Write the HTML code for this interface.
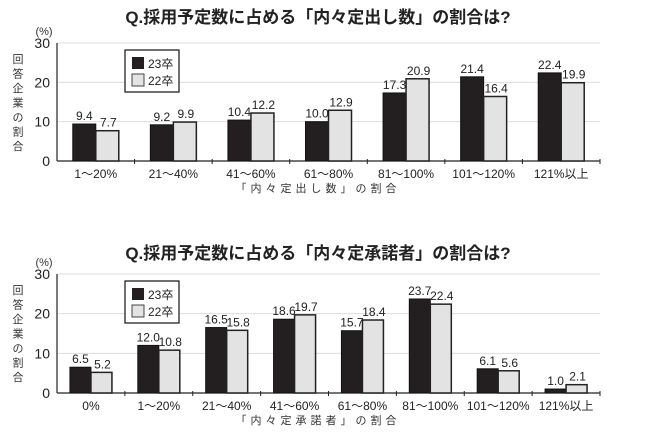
<!DOCTYPE html>
<html><head><meta charset="utf-8">
<style>
body{margin:0;background:#fff;}
svg{display:block;font-family:"Liberation Sans","Noto Sans CJK JP",sans-serif;}
</style></head>
<body>
<svg id="svg" width="650" height="434" viewBox="0 0 650 434"></svg>
<script>
const cats1 = ["1～20%","21～40%","41～60%","61～80%","81～100%","101～120%","121%以上"];
const s23_1 = [9.4,9.2,10.4,10.0,17.3,21.4,22.4];
const s22_1 = [7.7,9.9,12.2,12.9,20.9,16.4,19.9];
const cats2 = ["0%","1～20%","21～40%","41～60%","61～80%","81～100%","101～120%","121%以上"];
const s23_2 = [6.5,12.0,16.5,18.6,15.7,23.7,6.1,1.0];
const s22_2 = [5.2,10.8,15.8,19.7,18.4,22.4,5.6,2.1];
const yTicks = [0,10,20,30];
const svg = document.getElementById('svg');
const NS = "http://www.w3.org/2000/svg";
function mk(tag, attrs, parent){const e=document.createElementNS(NS,tag);for(const k in attrs)e.setAttribute(k,attrs[k]);(parent||svg).appendChild(e);return e;}
function txt(s,attrs,parent){const e=mk('text',attrs,parent);e.textContent=s;return e;}

function drawChart(o){
  const g=mk('g',{});
  
  
  const x0=57,x1=600;
  const y=v=>o.y0-(o.y0-o.y30)*v/30;
  const cw=(x1-x0)/o.cats.length;
  const t=txt(o.title,{x:318,y:o.titleY,'text-anchor':'middle','font-size':17,'font-weight':'bold',fill:'#222'},g);
  
  
  txt("(%)",{x:44,y:o.y30-8,'text-anchor':'middle','font-size':11,fill:'#333'},g);
  const yl="回答企業の割合";
  for(let i=0;i<yl.length;i++){
    const c=txt(yl[i],{x:18,y:o.y30+20+i*14.5,'text-anchor':'middle','font-size':11,fill:'#333'},g);
    
    
  }
  yTicks.forEach(v=>{
    if(v>0){const l=mk('line',{x1:x0,x2:x1,y1:y(v),y2:y(v),stroke:'#ddd','stroke-width':1},g);
      
      }
    const tl=txt(String(v),{x:50,y:y(v)+5,'text-anchor':'end','font-size':14,fill:'#222'},g);
    
    
  });
  mk('line',{x1:x0,x2:x0,y1:o.y30,y2:o.y0,stroke:'#222','stroke-width':1.2},g);
  mk('line',{x1:x0,x2:x1,y1:o.y0,y2:o.y0,stroke:'#222','stroke-width':1.2},g);
  o.cats.forEach((c,i)=>{
    const bx=x0+cw*(i+1);
    mk('line',{x1:bx,x2:bx,y1:o.y0-2,y2:o.y0+3,stroke:'#222','stroke-width':1},g);
    const cx=x0+cw*i+cw/2;
    const bw=o.bw;
    const v1=o.a[i],v2=o.b[i];
    const r1=mk('rect',{x:cx-bw,y:y(v1),width:bw,height:o.y0-y(v1),fill:'#231f20',stroke:'#111','stroke-width':1},g);
    
    
    const r2=mk('rect',{x:cx,y:y(v2),width:bw,height:o.y0-y(v2),fill:'#e3e3e3',stroke:'#222','stroke-width':1.5},g);
    
    
    const l1=txt(v1.toFixed(1),{x:cx-bw/2,y:y(v1)-4,'text-anchor':'middle','font-size':12,fill:'#222'},g);
    
    
    const l2=txt(v2.toFixed(1),{x:cx+bw/2+1,y:y(v2)-4,'text-anchor':'middle','font-size':12,fill:'#222'},g);
    
    
    const xl=txt(c,{x:cx,y:o.y0+17,'text-anchor':'middle','font-size':12,fill:'#222'},g);
    
    
  });
  const xt=txt(o.xtitle,{x:318,y:o.y0+31,'text-anchor':'middle','font-size':11,'letter-spacing':'4',fill:'#333'},g);
  
  
  const lg=mk('g',{},g);
  
  
  mk('rect',{x:125,y:o.y30+7,width:54,height:42,fill:'#fff',stroke:'#222','stroke-width':1.3},lg);
  mk('rect',{x:132,y:o.y30+14,width:12,height:12,fill:'#231f20'},lg);
  txt("23卒",{x:148,y:o.y30+25,'font-size':12,fill:'#222'},lg);
  mk('rect',{x:132,y:o.y30+31,width:12,height:12,fill:'#e3e3e3',stroke:'#444','stroke-width':1},lg);
  txt("22卒",{x:148,y:o.y30+42,'font-size':12,fill:'#222'},lg);
}
drawChart({name:'chart-naitei-dashi',title:"Q.採用予定数に占める「内々定出し数」の割合は?",titleY:23,y30:43,y0:161,cats:cats1,a:s23_1,b:s22_1,bw:23,xtitle:"「内々定出し数」の割合"});
drawChart({name:'chart-naitei-shodaku',title:"Q.採用予定数に占める「内々定承諾者」の割合は?",titleY:259,y30:274,y0:393,cats:cats2,a:s23_2,b:s22_2,bw:21,xtitle:"「内々定承諾者」の割合"});
</script>
</body></html>
